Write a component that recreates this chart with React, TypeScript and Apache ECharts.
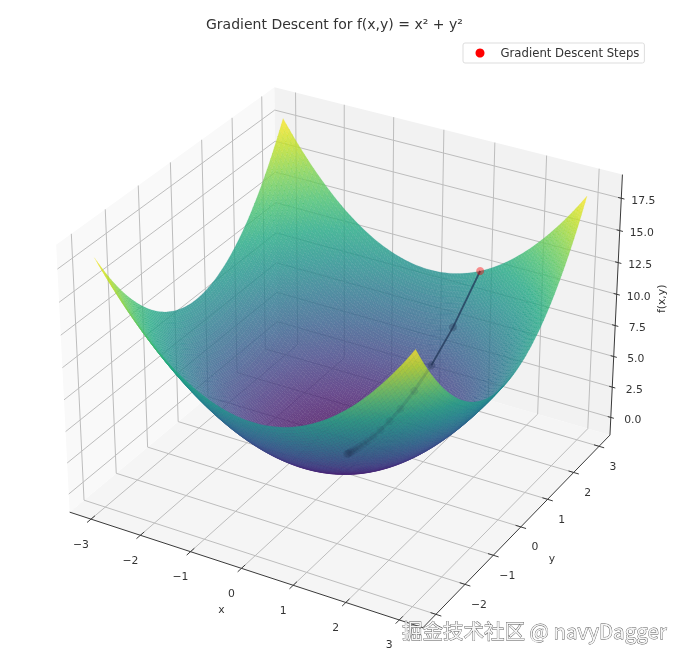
import React, { useEffect, useRef } from "react";
import * as echarts from "echarts";

const titleText = "Gradient Descent for f(x,y) = x² + y²";
const legendName = "Gradient Descent Steps";
const watermark = "掘金技术社区 @ navyDagger";

// surface table, rows = x, columns = y
const gridAxis = [-3, -2.5, -2, -1.5, -1, -0.5, 0, 0.5, 1, 1.5, 2, 2.5, 3];
const surfaceZ = [
  [18, 15.25, 13, 11.25, 10, 9.25, 9, 9.25, 10, 11.25, 13, 15.25, 18],
  [15.25, 12.5, 10.25, 8.5, 7.25, 6.5, 6.25, 6.5, 7.25, 8.5, 10.25, 12.5, 15.25],
  [13, 10.25, 8, 6.25, 5, 4.25, 4, 4.25, 5, 6.25, 8, 10.25, 13],
  [11.25, 8.5, 6.25, 4.5, 3.25, 2.5, 2.25, 2.5, 3.25, 4.5, 6.25, 8.5, 11.25],
  [10, 7.25, 5, 3.25, 2, 1.25, 1, 1.25, 2, 3.25, 5, 7.25, 10],
  [9.25, 6.5, 4.25, 2.5, 1.25, 0.5, 0.25, 0.5, 1.25, 2.5, 4.25, 6.5, 9.25],
  [9, 6.25, 4, 2.25, 1, 0.25, 0, 0.25, 1, 2.25, 4, 6.25, 9],
  [9.25, 6.5, 4.25, 2.5, 1.25, 0.5, 0.25, 0.5, 1.25, 2.5, 4.25, 6.5, 9.25],
  [10, 7.25, 5, 3.25, 2, 1.25, 1, 1.25, 2, 3.25, 5, 7.25, 10],
  [11.25, 8.5, 6.25, 4.5, 3.25, 2.5, 2.25, 2.5, 3.25, 4.5, 6.25, 8.5, 11.25],
  [13, 10.25, 8, 6.25, 5, 4.25, 4, 4.25, 5, 6.25, 8, 10.25, 13],
  [15.25, 12.5, 10.25, 8.5, 7.25, 6.5, 6.25, 6.5, 7.25, 8.5, 10.25, 12.5, 15.25],
  [18, 15.25, 13, 11.25, 10, 9.25, 9, 9.25, 10, 11.25, 13, 15.25, 18],
];

// descent steps
const stepX = [1, 0.8, 0.64, 0.512, 0.41, 0.328, 0.262, 0.21, 0.168, 0.134, 0.107, 0.086, 0.069, 0.055, 0.044, 0.035, 0.028, 0.023, 0.018, 0.014];
const stepY = [3, 2.4, 1.92, 1.536, 1.229, 0.983, 0.786, 0.629, 0.503, 0.403, 0.322, 0.258, 0.206, 0.165, 0.132, 0.106, 0.084, 0.068, 0.054, 0.043];
const stepZ = [10, 6.4, 4.096, 2.621, 1.678, 1.074, 0.687, 0.44, 0.281, 0.18, 0.115, 0.074, 0.047, 0.03, 0.019, 0.012, 0.008, 0.005, 0.003, 0.002];

const xTicks = [-3, -2, -1, 0, 1, 2, 3];
const yTicks = [-3, -2, -1, 0, 1, 2, 3];
const zTicks = [0, 2.5, 5, 7.5, 10, 12.5, 15, 17.5];
const xLabels = ["−3", "−2", "−1", "0", "1", "2", "3"];
const yLabels = ["", "−2", "−1", "0", "1", "2", "3"]; // the −3 is covered by the watermark in the reference
const zLabels = ["0.0", "2.5", "5.0", "7.5", "10.0", "12.5", "15.0", "17.5"];

const viridis = ["#440154", "#482475", "#414487", "#355f8d", "#2a788e", "#21918c", "#22a884", "#44bf70", "#7ad151", "#bddf26", "#fde725"];

const W = 685;
const H = 663;
const FONT = "DejaVu Sans";
const TEXT = "#333333";

// camera of a 3D axes: elevation 30, azimuth -60, box 4:4:3
const XY_LIM = 3.3;
const Z_MID = 9;
const Z_HALF = 9.9;
const BOX_XY = 1.19;
const BOX_Z = 0.893;
const DIST = 10;
const PANE_XY = 3.4375;
const PANE_Z_LO = -1.47;
const PANE_Z_HI = 19.3125;
const U = [0.866, 0.5, 0];
const V = [-0.25, 0.433, 0.866];
const N = [0.433, -0.75, 0.5];

const view = (x: number, y: number, z: number) => {
  const d = [(x / XY_LIM) * (BOX_XY / 2), (y / XY_LIM) * (BOX_XY / 2), ((z - Z_MID) / Z_HALF) * (BOX_Z / 2)];
  const dot = (a: number[]) => a[0] * d[0] + a[1] * d[1] + a[2] * d[2];
  const depth = DIST - dot(N);
  return { xp: dot(U) / depth, yp: dot(V) / depth, depth };
};
const project = (x: number, y: number, z: number) => {
  const p = view(x, y, z);
  return [p.xp, p.yp];
};

// plane range shown by the hidden cartesian axes
const SX = 3265;
const SY = 3251;
const OX = 345;
const OY = 343;

// refine the table: local three-point fit along both directions
const weights = (u: number) => {
  const i = Math.min(gridAxis.length - 2, Math.max(1, Math.round(u)));
  const t = u - i;
  return { i, w: [(t * (t - 1)) / 2, 1 - t * t, (t * (t + 1)) / 2] };
};
const sampleZ = (ux: number, uy: number) => {
  const a = weights(ux);
  const b = weights(uy);
  let s = 0;
  for (let m = 0; m < 3; m++) for (let n = 0; n < 3; n++) s += a.w[m] * b.w[n] * surfaceZ[a.i - 1 + m][b.i - 1 + n];
  return s;
};

const SUB = 8;
type Cell = { pts: number[][]; color: string; depth: number; cx: number; cy: number };
const buildCells = (): Cell[] => {
  const cells: Cell[] = [];
  const cnt = (gridAxis.length - 1) * SUB;
  const pos = (k: number) => gridAxis[0] + ((gridAxis[gridAxis.length - 1] - gridAxis[0]) * k) / cnt;
  for (let i = 0; i < cnt; i++) {
    for (let j = 0; j < cnt; j++) {
      const corners = [
        [i, j],
        [i + 1, j],
        [i + 1, j + 1],
        [i, j + 1],
      ].map(([a, b]) => [pos(a), pos(b), sampleZ(a / SUB, b / SUB)]);
      const mz = corners.reduce((s, c) => s + c[2], 0) / 4;
      const mid = view(pos(i + 0.5), pos(j + 0.5), mz);
      cells.push({
        pts: corners.map((c) => project(c[0], c[1], c[2])),
        color: echarts.color.lerp(Math.min(1, mz / 18), viridis),
        depth: mid.depth,
        cx: mid.xp,
        cy: mid.yp,
      });
    }
  }
  return cells.sort((a, b) => b.depth - a.depth);
};

const panes = [
  { fill: "#f5f5f5", c: [[-PANE_XY, -PANE_XY, PANE_Z_LO], [PANE_XY, -PANE_XY, PANE_Z_LO], [PANE_XY, PANE_XY, PANE_Z_LO], [-PANE_XY, PANE_XY, PANE_Z_LO]] },
  { fill: "#f9f9f9", c: [[-PANE_XY, -PANE_XY, PANE_Z_LO], [-PANE_XY, PANE_XY, PANE_Z_LO], [-PANE_XY, PANE_XY, PANE_Z_HI], [-PANE_XY, -PANE_XY, PANE_Z_HI]] },
  { fill: "#f2f2f2", c: [[-PANE_XY, PANE_XY, PANE_Z_LO], [PANE_XY, PANE_XY, PANE_Z_LO], [PANE_XY, PANE_XY, PANE_Z_HI], [-PANE_XY, PANE_XY, PANE_Z_HI]] },
];

const gridLines: number[][][] = [];
xTicks.forEach((x) => {
  gridLines.push([[x, -PANE_XY, PANE_Z_LO], [x, PANE_XY, PANE_Z_LO], [x, PANE_XY, PANE_Z_HI]]);
});
yTicks.forEach((y) => {
  gridLines.push([[PANE_XY, y, PANE_Z_LO], [-PANE_XY, y, PANE_Z_LO], [-PANE_XY, y, PANE_Z_HI]]);
});
zTicks.forEach((z) => {
  gridLines.push([[-PANE_XY, -PANE_XY, z], [-PANE_XY, PANE_XY, z], [PANE_XY, PANE_XY, z]]);
});

const axisLines: number[][][] = [
  [[-PANE_XY, -PANE_XY, PANE_Z_LO], [PANE_XY, -PANE_XY, PANE_Z_LO]],
  [[PANE_XY, -PANE_XY, PANE_Z_LO], [PANE_XY, PANE_XY, PANE_Z_LO]],
  [[PANE_XY, PANE_XY, PANE_Z_LO], [PANE_XY, PANE_XY, PANE_Z_HI]],
];
const X_TICK = 0.12;
const Y_TICK = 0.1;
const Z_TICK = 0.06;
xTicks.forEach((x) => axisLines.push([[x, -PANE_XY + X_TICK, PANE_Z_LO], [x, -PANE_XY - X_TICK, PANE_Z_LO]]));
yTicks.forEach((y) => axisLines.push([[PANE_XY - Y_TICK, y, PANE_Z_LO], [PANE_XY + Y_TICK, y, PANE_Z_LO]]));
zTicks.forEach((z) => axisLines.push([[PANE_XY - Z_TICK, PANE_XY, z], [PANE_XY + Z_TICK, PANE_XY, z]]));

type Lab = { text: string; p: number[]; dx: number; dy: number; rot?: number };
const labels: Lab[] = [];
xTicks.forEach((x, i) => labels.push({ text: xLabels[i], p: [x, -PANE_XY, PANE_Z_LO], dx: -10, dy: 25 }));
yTicks.forEach((y, i) => {
  if (yLabels[i]) labels.push({ text: yLabels[i], p: [PANE_XY, y, PANE_Z_LO], dx: 14, dy: 20 });
});
zTicks.forEach((z, i) => labels.push({ text: zLabels[i], p: [PANE_XY, PANE_XY, z], dx: 22, dy: 2 }));
labels.push({ text: "x", p: [0, -PANE_XY, PANE_Z_LO], dx: -20, dy: 41 });
labels.push({ text: "y", p: [PANE_XY, 0, PANE_Z_LO], dx: 31, dy: 32 });
labels.push({ text: "f(x,y)", p: [PANE_XY, PANE_XY, 9], dx: 45, dy: -8, rot: Math.PI / 2 });

const stepPoints = stepX.map((x, i) => project(x, stepY[i], stepZ[i]));

const App = () => {
  const ref = useRef<HTMLDivElement>(null);
  useEffect(() => {
    document.body.style.margin = "0";
    const chart = echarts.init(ref.current!, undefined, { renderer: "svg" });
    const cells = buildCells();
    const custom = (z: number, data: any[], render: (i: number, api: any) => any) => ({
      type: "custom",
      coordinateSystem: "cartesian2d",
      silent: true,
      z,
      clip: false,
      data,
      encode: { x: 0, y: 1 },
      renderItem: (params: any, api: any) => render(params.dataIndex, api),
    });
    const px = (api: any, p: number[]) => api.coord(project(p[0], p[1], p[2]));
    chart.setOption({
      animation: false,
      title: {
        text: titleText,
        left: 201,
        top: 12,
        textStyle: { fontFamily: FONT, fontSize: 14, fontWeight: "normal", color: TEXT },
      },
      legend: {
        data: [{ name: legendName, icon: "circle" }],
        left: 463,
        top: 43,
        padding: [4, 5, 4, 12.5],
        itemWidth: 9,
        itemHeight: 9,
        backgroundColor: "#ffffff",
        borderColor: "#dddddd",
        borderWidth: 1,
        borderRadius: 2,
        selectedMode: false,
        textStyle: { fontFamily: FONT, fontSize: 11.7, color: TEXT, padding: [0, 0, 0, 11] },
      },
      grid: { left: 0, right: 0, top: 0, bottom: 0 },
      xAxis: { type: "value", show: false, min: -OX / SX, max: (W - OX) / SX },
      yAxis: { type: "value", show: false, min: (OY - H) / SY, max: OY / SY },
      graphic: [
        {
          type: "text",
          x: 402,
          y: 620,
          z: 100,
          style: {
            text: watermark,
            fontFamily: "Noto Sans CJK SC",
            fontSize: 20.5,
            fill: "#f6f6f6",
            stroke: "#555555",
            lineWidth: 0.8,
          },
        },
      ],
      series: [
        custom(1, panes.map((p) => project(p.c[0][0], p.c[0][1], p.c[0][2])), (i, api) => ({
          type: "polygon",
          shape: { points: panes[i].c.map((c) => px(api, c)) },
          style: { fill: panes[i].fill },
        })),
        custom(2, gridLines.map((l) => project(l[0][0], l[0][1], l[0][2])), (i, api) => ({
          type: "polyline",
          shape: { points: gridLines[i].map((c) => px(api, c)) },
          style: { fill: "none", stroke: "#bdbdbd", lineWidth: 1 },
        })),
        custom(3, axisLines.map((l) => project(l[0][0], l[0][1], l[0][2])), (i, api) => ({
          type: "polyline",
          shape: { points: axisLines[i].map((c) => px(api, c)) },
          style: { fill: "none", stroke: "#3a3a3a", lineWidth: 1 },
        })),
        custom(3, labels.map((l) => project(l.p[0], l.p[1], l.p[2])), (i, api) => {
          const l = labels[i];
          const c = px(api, l.p);
          return {
            type: "text",
            x: c[0] + l.dx,
            y: c[1] + l.dy,
            rotation: l.rot || 0,
            style: { text: l.text, fill: TEXT, fontFamily: FONT, fontSize: 10.8, align: "center", verticalAlign: "middle" },
          };
        }),
        custom(4, cells.map((c) => [c.cx, c.cy]), (i, api) => ({
          type: "polygon",
          shape: { points: cells[i].pts.map((p) => api.coord(p)) },
          style: { fill: cells[i].color, stroke: cells[i].color, lineWidth: 0.18, opacity: 0.8 },
        })),
        {
          type: "line",
          name: "upper path",
          z: 5,
          silent: true,
          symbol: "none",
          data: stepPoints.slice(0, 3),
          lineStyle: { color: "#1f3355", width: 1.8, opacity: 0.72 },
        },
        {
          type: "line",
          name: "lower path",
          z: 5,
          silent: true,
          symbol: "none",
          data: stepPoints.slice(2),
          lineStyle: { color: "#24404f", width: 3, opacity: 0.16 },
        },
        {
          type: "scatter",
          name: legendName,
          z: 6,
          silent: true,
          symbolSize: 8,
          itemStyle: { color: "#ff0000", opacity: 1 },
          data: stepPoints.map((p, i) => ({
            value: p,
            itemStyle:
              i === 0
                ? { color: "#ff0000", opacity: 0.42 }
                : { color: "#22304f", opacity: i < 3 ? 0.3 : 0.09 },
          })),
        },
      ],
    });
    return () => chart.dispose();
  }, []);
  return <div ref={ref} style={{ width: W, height: H, filter: "blur(0.45px)" }} />;
};

export default App;
